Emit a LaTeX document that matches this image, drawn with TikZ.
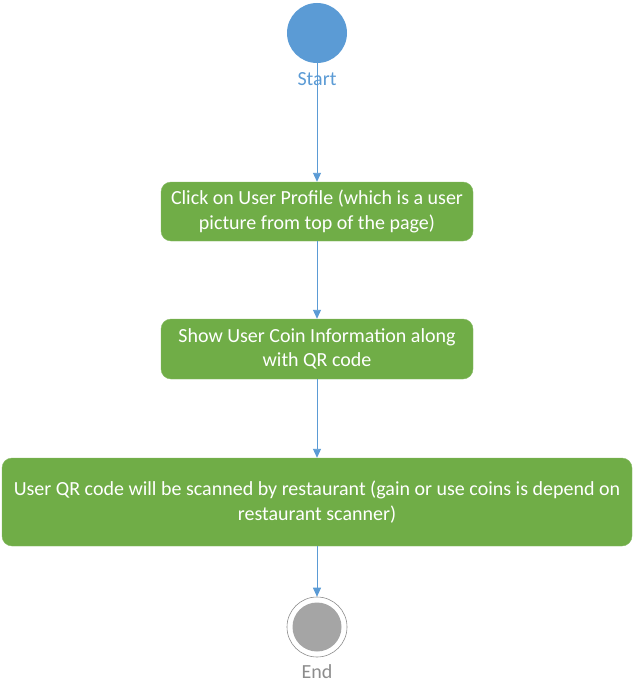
\documentclass[tikz,border=0pt]{standalone}
\usepackage{fontspec}
\setmainfont{Carlito}
\usetikzlibrary{arrows.meta}
\definecolor{sblue}{HTML}{5B9BD5}
\definecolor{sgreen}{HTML}{70AD47}
\definecolor{sgray}{HTML}{A5A5A5}
\definecolor{lgray}{HTML}{8C8C8C}
\tikzset{
  actbox/.style={draw=sgreen!85!white, fill=sgreen, rounded corners=10pt, text=white, align=center, inner sep=0pt, font=\fontsize{20}{24.5}\selectfont},
  flow/.style={draw=sblue, line width=0.9pt, -{Triangle[length=9pt,width=8pt]}},
  lbl/.style={font=\fontsize{20}{24}\selectfont}
}
\begin{document}
\begin{tikzpicture}[x=1pt,y=-1pt]
\useasboundingbox (0,0) rectangle (636,695);
\node[circle, fill=sblue, minimum size=60pt, inner sep=0pt] (start) at (317,33) {};
\node[actbox, minimum width=312pt, minimum height=59pt] (b1) at (317,211.5) {Click on User Profile (which is a user\\picture from top of the page)};
\node[actbox, minimum width=312pt, minimum height=60pt] (b2) at (317,349) {Show User Coin Information along\\with QR code};
\node[actbox, minimum width=630pt, minimum height=88pt] (b3) at (317,502) {User QR code will be scanned by restaurant (gain or use coins is depend on\\restaurant scanner)};
\node[circle, draw=lgray, line width=0.6pt, minimum size=60pt, inner sep=0pt] (end) at (317,627) {};
\node[circle, fill=sgray, minimum size=49pt, inner sep=0pt] (endin) at (end) {};
\draw[flow] (start) -- (b1);
\draw[flow] (b1) -- (b2);
\draw[flow] (b2) -- (b3);
\draw[flow] (b3) -- (end);
\node[lbl, text=sblue, inner sep=0pt] (startlbl) at (317,79) {Start};
\node[lbl, text=lgray] (endlbl) at (317,672) {End};
\end{tikzpicture}
\end{document}
